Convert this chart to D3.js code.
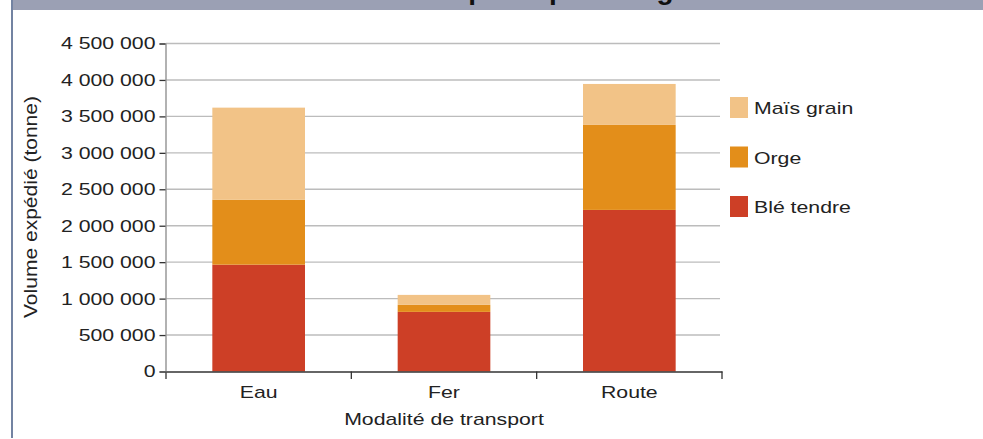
<!DOCTYPE html>
<html><head><meta charset="utf-8">
<script src="https://cdn.jsdelivr.net/npm/d3@7"></script>
<style>
body{margin:0;background:#fff}
text{font-family:"Liberation Sans",Arial,sans-serif}
</style>
</head><body>
<svg id="c" width="983" height="439"></svg>
<script>
const categories = ["Eau", "Fer", "Route"];
const seriesNames = ["Blé tendre", "Orge", "Maïs grain"];
const bleTendre = [1466000, 818000, 2217000];
const orge = [892000, 96000, 1166000];
const maisGrain = [1262000, 137000, 562000];
const yTicks = [0, 500000, 1000000, 1500000, 2000000, 2500000, 3000000, 3500000, 4000000, 4500000];
const colors = ["#cd3f26", "#e38e1a", "#f2c387"];
const titleText = "Volume expédié par catégorie de céréale";
const xTitle = "Modalité de transport";
const yTitle = "Volume expédié (tonne)";

const svg = d3.select("#c");
const SX = 1.25;
function stretch(sel, k) {
  sel.each(function () {
    const L = this.getComputedTextLength();
    this.setAttribute("textLength", L * k);
    this.setAttribute("lengthAdjust", "spacingAndGlyphs");
  });
}

const table = categories.map((c, i) => ({cat: c, "Blé tendre": bleTendre[i], "Orge": orge[i], "Maïs grain": maisGrain[i]}));
const stack = d3.stack().keys(seriesNames)(table);

const x = d3.scaleBand().domain(categories).range([166, 722]).paddingInner(0.5).paddingOuter(0.25);
const y = d3.scaleLinear().domain([0, 4500000]).range([371.5, 43.5]);
const color = d3.scaleOrdinal().domain(seriesNames).range(colors);
const loc = d3.formatLocale({decimal: ",", thousands: " ", grouping: [3], currency: ["", "€"]});
const fmt = loc.format(",");

// header band
svg.append("rect").attr("x", 13).attr("y", 0).attr("width", 970).attr("height", 10).attr("fill", "#9ba0b4");
svg.append("text").attr("x", 600).attr("y", -1).attr("text-anchor", "middle")
  .attr("font-size", 28).attr("font-weight", "bold").attr("fill", "#111").text(titleText);
svg.append("line").attr("x1", 12).attr("x2", 12).attr("y1", 0).attr("y2", 438)
  .attr("stroke", "#7383a2").attr("stroke-width", 2);

// gridlines
svg.append("g").selectAll("line").data(yTicks.filter(d => d > 0)).join("line")
  .attr("x1", 166).attr("x2", 720).attr("y1", d => y(d)).attr("y2", d => y(d))
  .attr("stroke", "#bcbcbc").attr("stroke-width", 1.4);

// y axis
const yAxis = svg.append("g").attr("transform", "translate(165.5,0)")
  .call(d3.axisLeft(y).tickValues(yTicks).tickFormat(fmt).tickSize(6).tickPadding(4));
yAxis.select(".domain").attr("stroke", "#999").attr("stroke-width", 1.5);
yAxis.selectAll(".tick line").attr("stroke", "#333").attr("stroke-width", 1.3);
yAxis.selectAll("text").attr("font-size", 17).attr("fill", "#222").attr("font-family", "Liberation Sans, Arial, sans-serif");
stretch(yAxis.selectAll("text"), SX);

// bars
svg.append("g").selectAll("g").data(stack).join("g").attr("fill", d => color(d.key))
  .selectAll("rect").data(d => d).join("rect")
  .attr("x", d => x(d.data.cat)).attr("width", x.bandwidth())
  .attr("y", d => y(d[1])).attr("height", d => y(d[0]) - y(d[1]));

// x axis
const xAxis = svg.append("g").attr("transform", "translate(0,371.5)")
  .call(d3.axisBottom(x).tickSize(0).tickPadding(10));
xAxis.select(".domain").attr("stroke", "#333").attr("stroke-width", 1.5);
xAxis.selectAll("text").attr("font-size", 17).attr("fill", "#222").attr("dy", "0.95em")
  .attr("font-family", "Liberation Sans, Arial, sans-serif");
stretch(xAxis.selectAll("text"), SX);
// boundary ticks between bands
const bounds = [x.range()[0]].concat(categories.map(c => x(c) + x.bandwidth() + x.step() * x.paddingInner() / 2 + (c === categories[categories.length - 1] ? x.step() * (x.paddingOuter() - x.paddingInner() / 2) : 0)));
svg.append("g").selectAll("line").data(bounds).join("line")
  .attr("x1", d => d).attr("x2", d => d).attr("y1", 371.5).attr("y2", 379)
  .attr("stroke", "#333").attr("stroke-width", 1.3);

// axis titles
const xt = svg.append("text").attr("x", 444).attr("y", 425).attr("text-anchor", "middle")
  .attr("font-size", 17).attr("fill", "#222").text(xTitle);
stretch(xt, SX);
const yt = svg.append("text").attr("transform", "translate(37,207) rotate(-90)").attr("text-anchor", "middle")
  .attr("font-size", 18).attr("fill", "#222").text(yTitle);
yt.attr("textLength", 222).attr("lengthAdjust", "spacingAndGlyphs");

// legend
const legendOrder = seriesNames.slice().reverse();
const lg = svg.append("g").selectAll("g").data(legendOrder).join("g")
  .attr("transform", (d, i) => `translate(730,${97 + i * 49.5})`);
lg.append("rect").attr("width", 18).attr("height", 21).attr("fill", d => color(d));
const lt = lg.append("text").attr("x", 24).attr("y", 17).attr("font-size", 17).attr("fill", "#222").text(d => d);
stretch(lt, SX);
</script>
</body></html>
